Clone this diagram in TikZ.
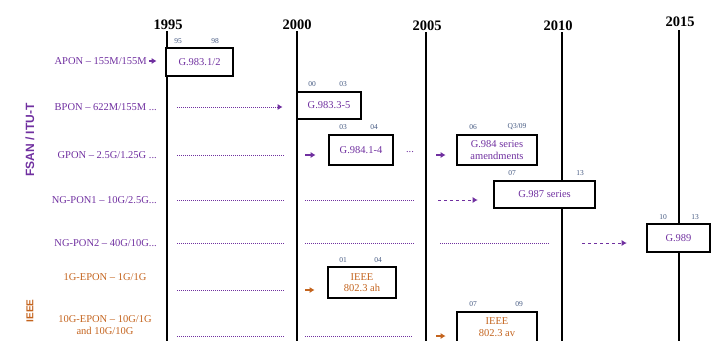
\documentclass[tikz,border=0pt]{standalone}
\usepackage{fontspec}
\setmainfont{Liberation Serif}
\setsansfont{Liberation Sans}
\usetikzlibrary{arrows.meta}
\definecolor{itu}{RGB}{112,48,160}
\definecolor{ieee}{RGB}{196,100,30}
\definecolor{dategray}{RGB}{70,90,130}
\newcommand\fsz[1]{\fontsize{#1}{#1}\selectfont}
\begin{document}
\begin{tikzpicture}[x=1pt,y=-1pt,
  yearlbl/.style={font=\fsz{14.5}\bfseries, inner sep=0},
  yearline/.style={line width=2.5pt},
  pbox/.style={draw, fill=white, line width=2.6pt, align=center, inner sep=0, font=\fontsize{10.5}{11.5}\selectfont},
  datelbl/.style={font=\fsz{7.5}, text=dategray, inner sep=0},
  rowlbl/.style={font=\fontsize{10.5}{12}\selectfont, inner sep=0},
  dotseg/.style={densely dotted, line width=1pt},
  tip/.style={-{Latex[length=5pt,width=6pt]}},
  arr/.style={tip, line width=1.4pt},
]
\useasboundingbox (0,0) rectangle (719,340);

% years
\node[yearlbl] (y95) at (168,25) {1995};
\node[yearlbl] (y00) at (297,25) {2000};
\node[yearlbl] (y05) at (427,26) {2005};
\node[yearlbl] (y10) at (558,26) {2010};
\node[yearlbl] (y15) at (680,22) {2015};
\coordinate (e95) at (167,342);
\coordinate (e00) at (297,342);
\coordinate (e05) at (426,342);
\coordinate (e10) at (562,342);
\coordinate (e15) at (679,342);
\draw[yearline] (y95.south -| e95) ++(0,1) -- (e95);
\draw[yearline] (y00.south -| e00) ++(0,1) -- (e00);
\draw[yearline] (y05.south -| e05) ++(0,1) -- (e05);
\draw[yearline] (y10.south -| e10) ++(0,1) -- (e10);
\draw[yearline] (y15.south -| e15) ++(0,3) -- (e15);

% side labels
\node[rotate=90, font=\sffamily\bfseries\fsz{12}, text=itu] (fsan) at (30,140) {FSAN / ITU-T};
\node[rotate=90, font=\sffamily\bfseries\fsz{10}, text=ieee] (ieeel) at (30,311) {IEEE};

% boxes
\node[pbox, text=itu, minimum width=67pt, minimum height=28pt] (b1) at (199.5,62) {G.983.1/2};
\node[pbox, text=itu, minimum width=64pt, minimum height=27pt] (b2) at (329,105.5) {G.983.3-5};
\node[pbox, text=itu, minimum width=64pt, minimum height=30pt] (b3) at (361,150) {G.984.1-4};
\node[pbox, text=itu, minimum width=80pt, minimum height=30pt] (b4) at (497,150) {G.984 series\\amendments};
\node[pbox, text=itu, minimum width=101pt, minimum height=27pt] (b5) at (544.5,194.5) {G.987 series};
\node[pbox, text=itu, minimum width=63pt, minimum height=28pt] (b6) at (678.5,238) {G.989};
\node[pbox, text=ieee, minimum width=68pt, minimum height=31pt] (b7) at (362,282.5) {IEEE\\802.3 ah};
\node[pbox, text=ieee, minimum width=80pt, minimum height=30pt] (b8) at (497,327) {IEEE\\802.3 av};

% dates
\node[datelbl] (d1a) at (178,41) {95};
\node[datelbl] (d1b) at (215,41) {98};
\node[datelbl] (d2a) at (312,84) {00};
\node[datelbl] (d2b) at (343,84) {03};
\node[datelbl] (d3a) at (343,127) {03};
\node[datelbl] (d3b) at (374,127) {04};
\node[datelbl] (d4a) at (473,127) {06};
\node[datelbl] (d4b) at (517,127) {Q3/09};
\node[datelbl] (d5a) at (512,173) {07};
\node[datelbl] (d5b) at (580,173) {13};
\node[datelbl] (d6a) at (663,217) {10};
\node[datelbl] (d6b) at (695,217) {13};
\node[datelbl] (d7a) at (343,260) {01};
\node[datelbl] (d7b) at (378,260) {04};
\node[datelbl] (d8a) at (473,304) {07};
\node[datelbl] (d8b) at (519,304) {09};

% row labels
\node[rowlbl, text=itu, anchor=east] (l1) at (147,61) {APON – 155M/155M};
\node[rowlbl, text=itu, anchor=east] (l2) at (157,107) {BPON – 622M/155M ...};
\node[rowlbl, text=itu, anchor=east] (l3) at (157,155) {GPON – 2.5G/1.25G ...};
\node[rowlbl, text=itu, anchor=east] (l4) at (157,200) {NG-PON1 – 10G/2.5G...};
\node[rowlbl, text=itu, anchor=east] (l5) at (157,243) {NG-PON2 – 40G/10G...};
\node[rowlbl, text=ieee] (l6) at (105,277) {1G-EPON – 1G/1G};
\node[rowlbl, text=ieee, align=center] (l7) at (105,325) {10G-EPON – 10G/1G\\and 10G/10G};

% APON
\draw[arr, itu, shorten <=2pt, shorten >=8pt] (l1.east) -- (l1.east -| b1.west);

% BPON
\coordinate (s2a) at (177,107);
\draw[dotseg, itu, tip, shorten >=13pt] (s2a) -- (s2a -| b2.west);

% GPON
\coordinate (s3a) at (177,155);
\coordinate (t3a) at (285,155);
\draw[dotseg, itu] (s3a) -- (t3a);
\coordinate (s3b) at (305,155);
\draw[arr, itu, shorten >=12pt] (s3b) -- (s3b -| b3.west);
\node[rowlbl, text=itu] (dots3) at (410,152) {...};
\coordinate (s3c) at (436,155);
\draw[arr, itu, shorten >=10pt] (s3c) -- (s3c -| b4.west);

% NG-PON1
\coordinate (s4a) at (177,200);
\coordinate (t4a) at (285,200);
\coordinate (s4b) at (305,200);
\coordinate (t4b) at (415,200);
\coordinate (s4c) at (438,200);
\draw[dotseg, itu] (s4a) -- (t4a);
\draw[dotseg, itu] (s4b) -- (t4b);
\draw[dashed, itu, line width=0.9pt, tip, shorten >=15pt] (s4c) -- (s4c -| b5.west);

% NG-PON2
\coordinate (s5a) at (177,243);
\coordinate (t5a) at (285,243);
\coordinate (s5b) at (305,243);
\coordinate (t5b) at (415,243);
\coordinate (s5c) at (440,243);
\coordinate (t5c) at (550,243);
\coordinate (s5d) at (582,243);
\draw[dotseg, itu] (s5a) -- (t5a);
\draw[dotseg, itu] (s5b) -- (t5b);
\draw[dotseg, itu] (s5c) -- (t5c);
\draw[dashed, itu, line width=0.9pt, tip, shorten >=19pt] (s5d) -- (s5d -| b6.west);

% 1G-EPON
\coordinate (s6a) at (177,290);
\coordinate (t6a) at (285,290);
\coordinate (s6b) at (305,290);
\draw[dotseg, itu] (s6a) -- (t6a);
\draw[arr, ieee, shorten >=12pt] (s6b) -- (s6b -| b7.west);

% 10G-EPON
\coordinate (s7a) at (177,336);
\coordinate (t7a) at (285,336);
\coordinate (s7b) at (305,336);
\coordinate (t7b) at (413,336);
\coordinate (s7c) at (436,336);
\draw[dotseg, itu] (s7a) -- (t7a);
\draw[dotseg, itu] (s7b) -- (t7b);
\draw[arr, ieee, shorten >=10pt] (s7c) -- (s7c -| b8.west);
\end{tikzpicture}
\end{document}
